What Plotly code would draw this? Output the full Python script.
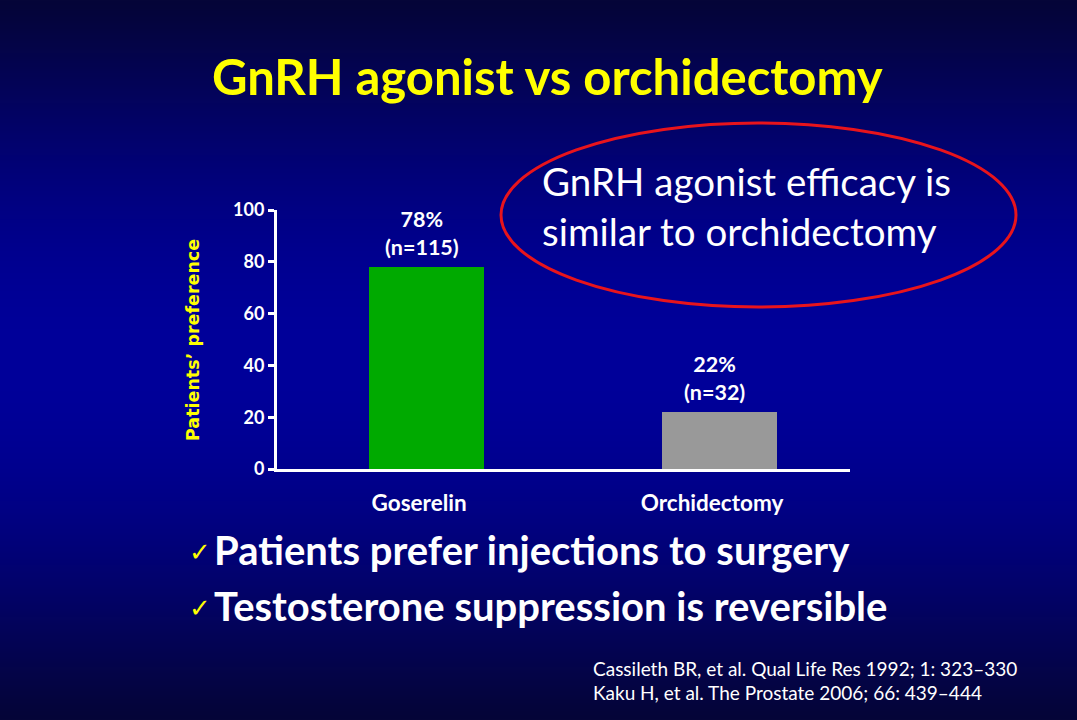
import base64
import struct
import zlib

import numpy as np
import plotly.graph_objects as go

# ---------------- data ----------------
categories = ["Goserelin", "Orchidectomy"]
preference_pct = [78, 22]
patients_n = [115, 32]
y_tick_values = [0, 20, 40, 60, 80, 100]
bar_colors = ["#00aa00", "#999999"]

title_text = "GnRH agonist vs orchidectomy"
y_axis_title = "Patients’ preference"
callout_lines = ["GnRH agonist efficacy is", "similar to orchidectomy"]
bullet_lines = ["Patients prefer injections to surgery",
                "Testosterone suppression is reversible"]
reference_lines = ["Cassileth BR, et al. Qual Life Res 1992; 1: 323–330",
                   "Kaku H, et al. The Prostate 2006; 66: 439–444"]

W, H = 1077, 720
PL, PR, PT, PB = 277, 850, 210, 469  # plot area in pixels
PW, PH = PR - PL, PB - PT


# ---------------- background gradient (png data uri) ----------------
def gradient_png(h=360, w=4):
    t = np.linspace(0, 1, h)
    s = np.sin(np.pi * t) ** 1.1
    r = (5 * (1 - s)).astype(np.uint8)
    g = (5 * (1 - s)).astype(np.uint8)
    b = (56 + 98 * s).astype(np.uint8)
    rows = b""
    for i in range(h):
        px = bytes([r[i], g[i], b[i]]) * w
        rows += b"\x00" + px

    def chunk(tag, data):
        c = struct.pack(">I", len(data)) + tag + data
        return c + struct.pack(">I", zlib.crc32(tag + data) & 0xFFFFFFFF)

    png = b"\x89PNG\r\n\x1a\n"
    png += chunk(b"IHDR", struct.pack(">IIBBBBB", w, h, 8, 2, 0, 0, 0))
    png += chunk(b"IDAT", zlib.compress(rows, 9))
    png += chunk(b"IEND", b"")
    return "data:image/png;base64," + base64.b64encode(png).decode()


def px_x(x):
    return (x - PL) / PW


def px_y(y):
    return (PB - y) / PH


fig = go.Figure()

fig.add_trace(go.Bar(
    x=categories,
    y=preference_pct,
    marker=dict(color=bar_colors, line=dict(width=0)),
    width=0.393,
    offset=-0.17,
    hoverinfo="skip",
))

FONT = "Lato"
annotations = []

# value labels above bars
for i, (c, v, n) in enumerate(zip(categories, preference_pct, patients_n)):
    annotations.append(dict(
        x=i + 0.01, y=v, xref="x", yref="y",
        text=f"{v}%<br>(n={n})",
        showarrow=False, yanchor="bottom", yshift=5,
        font=dict(family=FONT, size=21.5, color="white", weight="bold"),
    ))

# title
annotations.append(dict(
    x=px_x(547), y=px_y(76), xref="paper", yref="paper",
    text=title_text, showarrow=False,
    xanchor="center", yanchor="middle",
    font=dict(family=FONT, size=49, color="#ffff00", weight="bold"),
))

# y axis title
annotations.append(dict(
    x=px_x(193), y=px_y(340), xref="paper", yref="paper",
    text=y_axis_title, showarrow=False, textangle=-90,
    xanchor="center", yanchor="middle",
    font=dict(family="DejaVu Sans", size=17.5, color="#ffff00", weight="bold"),
))

# callout text
annotations.append(dict(
    x=px_x(540), y=px_y(206), xref="paper", yref="paper",
    text="<br>".join(callout_lines), showarrow=False, align="left",
    xanchor="left", yanchor="middle",
    font=dict(family=FONT, size=38.5, color="white"),
))

# bullets
for k, line in enumerate(bullet_lines):
    yy = 550 + 56 * k
    annotations.append(dict(
        x=px_x(187), y=px_y(yy + 2), xref="paper", yref="paper",
        text="✓", showarrow=False, xanchor="left", yanchor="middle",
        font=dict(family="DejaVu Sans", size=26, color="#ffff00"),
    ))
    annotations.append(dict(
        x=px_x(212), y=px_y(yy), xref="paper", yref="paper",
        text=line, showarrow=False, xanchor="left", yanchor="middle",
        font=dict(family=FONT, size=40, color="white", weight="bold"),
    ))

# references
for k, line in enumerate(reference_lines):
    annotations.append(dict(
        x=px_x(591), y=px_y(668 + 24 * k), xref="paper", yref="paper",
        text=line, showarrow=False, xanchor="left", yanchor="middle",
        font=dict(family=FONT, size=19, color="white"),
    ))

shapes = [dict(
    type="circle", xref="paper", yref="paper",
    x0=px_x(501), x1=px_x(1016), y0=px_y(307), y1=px_y(123),
    line=dict(color="#e8141c", width=3), fillcolor="rgba(0,0,0,0)",
)]

fig.update_layout(
    width=W, height=H,
    margin=dict(l=PL, r=W - PR, t=PT, b=H - PB),
    paper_bgcolor="#000060",
    plot_bgcolor="rgba(0,0,0,0)",
    showlegend=False,
    bargap=0,
    annotations=annotations,
    shapes=shapes,
    images=[dict(
        source=gradient_png(), xref="paper", yref="paper",
        x=-PL / PW, y=1 + PT / PH, sizex=W / PW, sizey=H / PH,
        xanchor="left", yanchor="top", sizing="stretch", layer="below",
    )],
    xaxis=dict(
        range=[-0.485, 1.471],
        showline=True, linecolor="white", linewidth=3,
        showgrid=False, zeroline=False,
        ticks="", ticklabelstandoff=12,
        tickfont=dict(family=FONT, size=22.5, color="white", weight="bold"),
        fixedrange=True,
    ),
    yaxis=dict(
        range=[0, 100],
        tickvals=y_tick_values,
        showline=True, linecolor="white", linewidth=3,
        showgrid=False, zeroline=False,
        ticks="outside", ticklen=6, tickwidth=3, tickcolor="white",
        tickfont=dict(family=FONT, size=18, color="white", weight="bold"),
        fixedrange=True,
    ),
)

fig.write_html(
    "out.html",
    config={"displayModeBar": False},
    post_script="document.body.style.margin='0';document.body.style.overflow='hidden';",
)
